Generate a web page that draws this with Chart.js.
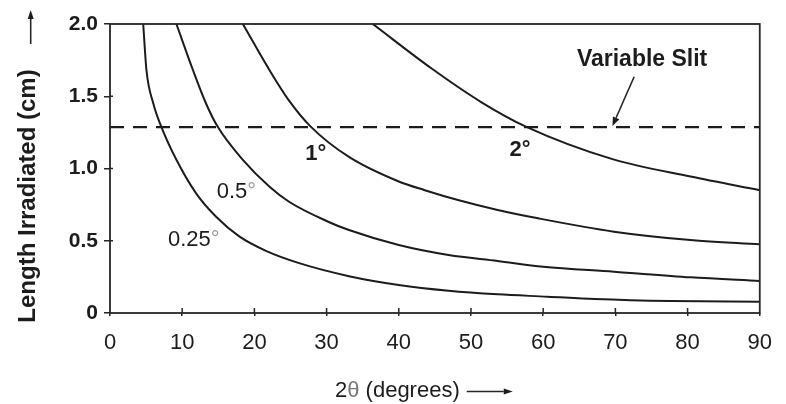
<!DOCTYPE html>
<html><head><meta charset="utf-8">
<script src="https://cdn.jsdelivr.net/npm/chart.js@4"></script>
<style>html,body{margin:0;padding:0;background:#fff}</style>
</head><body>
<canvas id="c" width="786" height="404"></canvas>
<script>
// ---- data ----
const seriesNames = ['0.25°', '0.5°', '1°', '2°'];
const deg025X = [4.6, 5.05, 6.0, 7.1, 9.2, 11.9, 14.7, 17.9, 21.6, 26.2, 33.1, 40.0, 46.9, 53.7, 60.6, 67.1, 77.6, 90];
const deg025Y = [2.0, 1.68, 1.45, 1.29, 1.06, 0.83, 0.666, 0.53, 0.43, 0.345, 0.255, 0.194, 0.154, 0.129, 0.113, 0.097, 0.083, 0.078];
const deg05X  = [9.2, 11.5, 13.3, 14.9, 18.4, 22.1, 24.8, 30.3, 33.1, 40.0, 46.9, 53.7, 60.0, 69.8, 80.4, 90];
const deg05Y  = [2.0, 1.68, 1.45, 1.29, 1.06, 0.874, 0.77, 0.63, 0.574, 0.47, 0.401, 0.36, 0.32, 0.286, 0.247, 0.222];
const deg1X   = [18.4, 22.1, 24.8, 27.8, 33.1, 40.0, 43.6, 48.2, 53.7, 59.3, 69.8, 80.4, 90];
const deg1Y   = [2.0, 1.68, 1.47, 1.29, 1.08, 0.91, 0.85, 0.782, 0.713, 0.655, 0.563, 0.505, 0.475];
const deg2X   = [36.4, 44.6, 51.4, 57.6, 69.6, 80.4, 90];
const deg2Y   = [2.0, 1.69, 1.46, 1.29, 1.065, 0.944, 0.85];
const slitX   = [0, 90];
const slitY   = [1.287, 1.287];
const slitLabel = 'Variable Slit';
const xTitle = ['2', 'θ', ' (degrees)'];
const yTitle = 'Length Irradiated (cm)';

const pts = (xs, ys) => xs.map((v, i) => ({x: v, y: ys[i]}));
const curve = (label, xs, ys) => ({
  label, data: pts(xs, ys), showLine: true, pointRadius: 0, borderColor: '#1c1c1c',
  borderWidth: 2, cubicInterpolationMode: 'monotone', fill: false
});

const FONT = '"Liberation Sans", Arial, Helvetica, sans-serif';

const annot = {
  id: 'annot',
  afterDraw(chart) {
    const {ctx, chartArea: a, scales: {x, y}} = chart;
    const X = v => x.getPixelForValue(v), Y = v => y.getPixelForValue(v);
    ctx.save();
    ctx.strokeStyle = '#262626';
    ctx.fillStyle = '#1c1c1c';
    // frame
    ctx.lineWidth = 1.8;
    ctx.strokeRect(a.left, a.top, a.right - a.left, a.bottom - a.top);
    // inner tick marks
    ctx.lineWidth = 1.5;
    x.ticks.forEach(t => {
      if (t.value > x.min && t.value < x.max) {
        const p = X(t.value);
        ctx.beginPath(); ctx.moveTo(p, a.bottom); ctx.lineTo(p, a.bottom - 5); ctx.stroke();
      }
    });
    y.ticks.forEach(t => {
      if (t.value > y.min && t.value < y.max) {
        const p = Y(t.value);
        ctx.beginPath(); ctx.moveTo(a.left, p); ctx.lineTo(a.left + 3, p); ctx.stroke();
      }
    });
    const arrow = (x1, y1, x2, y2, hl, hw) => {
      const ang = Math.atan2(y2 - y1, x2 - x1);
      const bx = x2 - hl * Math.cos(ang), by = y2 - hl * Math.sin(ang);
      ctx.beginPath(); ctx.moveTo(x1, y1); ctx.lineTo(bx, by); ctx.stroke();
      ctx.beginPath();
      ctx.moveTo(x2, y2);
      ctx.lineTo(bx + hw * Math.sin(ang), by - hw * Math.cos(ang));
      ctx.lineTo(bx - hw * Math.sin(ang), by + hw * Math.cos(ang));
      ctx.closePath(); ctx.fill();
    };
    // curve labels: [text, degColor, bold, x, y]
    const labs = [
      [seriesNames[0], '#9a9a9a', false, 11.6, 0.505],
      [seriesNames[1], '#9a9a9a', false, 17.5, 0.837],
      [seriesNames[2], '#1c1c1c', true, 28.5, 1.10],
      [seriesNames[3], '#1c1c1c', true, 56.8, 1.128]
    ];
    ctx.textBaseline = 'middle';
    labs.forEach(([txt, dc, bold, lx, ly]) => {
      ctx.font = (bold ? 'bold ' : '') + '22px ' + FONT;
      const num = txt.replace('°', '');
      const wn = ctx.measureText(num).width, wd = ctx.measureText('°').width;
      let sx = X(lx) - (wn + wd) / 2;
      ctx.textAlign = 'left';
      ctx.fillStyle = '#1c1c1c'; ctx.fillText(num, sx, Y(ly));
      ctx.fillStyle = dc; ctx.fillText('°', sx + wn, Y(ly));
    });
    // variable slit label + arrow
    ctx.fillStyle = '#1c1c1c';
    ctx.font = 'bold 23px ' + FONT;
    ctx.textAlign = 'center';
    ctx.fillText(slitLabel, X(73.7), Y(1.75));
    ctx.lineWidth = 1.6;
    arrow(X(72.6), Y(1.635), X(69.6), Y(slitY[0]) - 1, 9, 3.5);
    // y title
    ctx.save();
    ctx.translate(28.5, 196);
    ctx.rotate(-Math.PI / 2);
    ctx.font = 'bold 24px ' + FONT;
    ctx.textAlign = 'center';
    ctx.fillText(yTitle, 0, 0);
    ctx.restore();
    ctx.lineWidth = 1.6;
    arrow(30.7, 44, 30.7, 10, 9, 3);
    // x title
    ctx.font = '22px ' + FONT;
    ctx.textAlign = 'left';
    const w = xTitle.map(s => ctx.measureText(s).width);
    let sx = 335;
    xTitle.forEach((s, i) => {
      ctx.fillStyle = i === 1 ? '#777' : '#1c1c1c';
      ctx.fillText(s, sx, 391);
      sx += w[i];
    });
    ctx.lineWidth = 1.6;
    arrow(sx + 7, 391.5, sx + 53, 391.5, 9, 3);
    ctx.restore();
  }
};

new Chart(document.getElementById('c'), {
  type: 'scatter',
  data: {
    datasets: [
      curve(seriesNames[0], deg025X, deg025Y),
      curve(seriesNames[1], deg05X, deg05Y),
      curve(seriesNames[2], deg1X, deg1Y),
      curve(seriesNames[3], deg2X, deg2Y),
      {label: slitLabel, data: pts(slitX, slitY), showLine: true, pointRadius: 0,
       borderColor: '#1c1c1c', borderWidth: 2.2, borderDash: [14, 9]}
    ]
  },
  options: {
    responsive: false,
    animation: false,
    layout: {padding: {left: 0, right: 23, top: 24, bottom: 0}},
    plugins: {legend: {display: false}, tooltip: {enabled: false}},
    scales: {
      x: {
        type: 'linear', min: 0, max: 90,
        afterFit: s => { s.height = 91; },
        border: {display: false},
        grid: {drawOnChartArea: false, drawTicks: true, tickLength: 3, color: '#262626', lineWidth: 1.5},
        ticks: {stepSize: 10, color: '#1c1c1c', padding: 14, font: {family: FONT, size: 22}}
      },
      y: {
        type: 'linear', min: 0, max: 2,
        afterFit: s => { s.width = 110; },
        border: {display: false},
        grid: {drawOnChartArea: false, drawTicks: true, tickLength: 6, color: '#262626', lineWidth: 1.5},
        ticks: {stepSize: 0.5, color: '#1c1c1c', padding: 6, font: {family: FONT, size: 21, weight: 'bold'},
                callback: v => v === 0 ? '0' : v.toFixed(1)}
      }
    }
  },
  plugins: [annot]
});
</script>
</body></html>
